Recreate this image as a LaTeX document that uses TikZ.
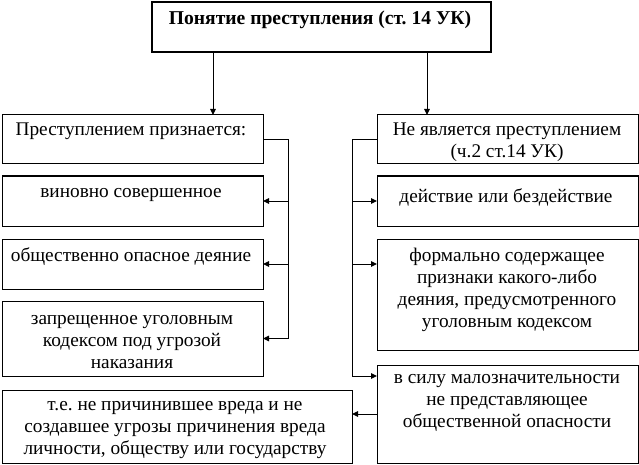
\documentclass[tikz,border=0pt]{standalone}
\usepackage{fontspec}
\setmainfont{Liberation Serif}
\usetikzlibrary{arrows.meta}
\frenchspacing
\begin{document}
\begin{tikzpicture}[x=1pt,y=-1pt,
  box/.style={draw,line width=1pt,inner sep=0pt,outer sep=0pt},
  topbox/.style={draw,line width=2.6pt,inner sep=0pt,outer sep=0pt},
  txt/.style={align=center,inner sep=0pt,font=\fontsize{19.3}{22}\selectfont},
  con/.style={line width=1pt},
  arr/.style={line width=1pt,-{Triangle[length=6pt,width=5.5pt]}}]
\useasboundingbox (0,0) rectangle (639,465);
% boxes
\node[topbox,minimum width=339pt,minimum height=50pt] (top) at (321.5,27) {};
\node[box,minimum width=261pt,minimum height=49pt] (b1) at (132.5,139.5) {};
\node[box,minimum width=261pt,minimum height=50pt] (b2) at (132.5,201) {};
\node[box,minimum width=261pt,minimum height=50pt] (b3) at (132.5,264) {};
\node[box,minimum width=261pt,minimum height=75pt] (b4) at (132.5,338.5) {};
\node[box,minimum width=350pt,minimum height=73pt] (bl) at (177,426.5) {};
\node[box,minimum width=261pt,minimum height=49pt] (r1) at (507.5,139.5) {};
\node[box,minimum width=261pt,minimum height=50pt] (r2) at (507.5,201) {};
\node[box,minimum width=261pt,minimum height=111pt] (r3) at (507.5,294.5) {};
\node[box,minimum width=261pt,minimum height=98pt] (r4) at (507.5,414) {};
% texts
\node[txt,font=\fontsize{19.6}{22}\selectfont\bfseries] (ttop) at (320,20) {Понятие преступления (ст. 14 УК)};
\node[txt] (tb1) at (131,131) {Преступлением признается:};
\node[txt] (tb2) at (131,195) {виновно совершенное};
\node[txt] (tb3) at (131,257) {общественно опасное деяние};
\node[txt] (tb4) at (132,342) {запрещенное уголовным\\кодексом под угрозой\\наказания};
\node[txt] (tbl) at (175,430) {т.е. не причинившее вреда и не\\создавшее угрозы причинения вреда\\личности, обществу или государству};
\node[txt] (tr1) at (507,142) {Не является преступлением\\(ч.2 ст.14 УК)};
\node[txt] (tr2) at (506,197) {действие или бездействие};
\node[txt] (tr3) at (507,290) {формально содержащее\\признаки какого-либо\\деяния, предусмотренного\\уголовным кодексом};
\node[txt] (tr4) at (507,403) {в силу малозначительности\\не представляющее\\общественной опасности};
% connector coordinates
\coordinate (la) at (213,0);
\coordinate (ra) at (427,0);
\coordinate (lb) at (288,140);
\coordinate (rb) at (352,140);
\coordinate (r3y) at (0,264);
\coordinate (r4y) at (0,376);
% connectors
\draw[arr] (top.south -| la) -- (b1.north -| la);
\draw[arr] (top.south -| ra) -- (r1.north -| ra);
\draw[con] (b1.east |- lb) -- (lb) -- (lb |- b4.east);
\draw[arr] (lb |- b2.east) -- (b2.east);
\draw[arr] (lb |- b3.east) -- (b3.east);
\draw[arr] (lb |- b4.east) -- (b4.east);
\draw[con] (r1.west |- rb) -- (rb) -- (rb |- r4y);
\draw[arr] (rb |- r2.west) -- (r2.west);
\draw[arr] (rb |- r3y) -- (r3.west |- r3y);
\draw[arr] (rb |- r4y) -- (r4.west |- r4y);
\draw[arr] (r4.west) -- (r4.west -| bl.east);
\end{tikzpicture}
\end{document}
